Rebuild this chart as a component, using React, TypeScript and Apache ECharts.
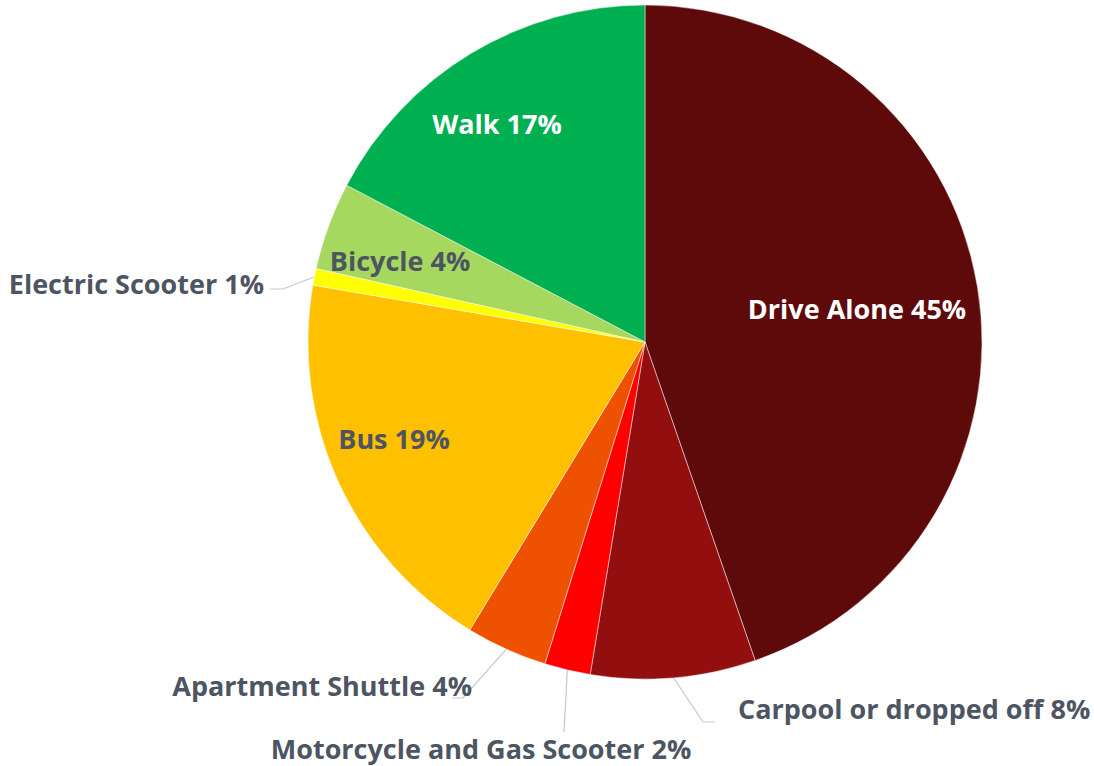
import React, { useEffect, useRef } from "react";
import * as echarts from "echarts";

const categories = [
  "Drive Alone",
  "Carpool or dropped off",
  "Motorcycle and Gas Scooter",
  "Apartment Shuttle",
  "Bus",
  "Electric Scooter",
  "Bicycle",
  "Walk",
];
const shares = [44.7, 7.9, 2.2, 3.9, 19.0, 0.8, 4.2, 17.3];
const colors = ["#5E0A0B", "#920E0F", "#FF0000", "#EE5100", "#FFC000", "#FFFF00", "#A6D75F", "#00B050"];
const labelColors = ["#FFFFFF", "#4D5563", "#4D5563", "#4D5563", "#4D5563", "#4D5563", "#4D5563", "#FFFFFF"];

// label anchor placement (x, y, align) and leader-line elbows
const labelPlace: any[] = [
  { x: 857, y: 308, align: "center" },
  { x: 738, y: 708, align: "left", line: [[703, 722], [715, 722]] },
  { x: 481, y: 748, align: "center", line: [[564, 732], [564, 732]] },
  { x: 472, y: 685, align: "right", line: [[463, 698], [452, 698]] },
  { x: 394, y: 438, align: "center" },
  { x: 264, y: 283, align: "right", line: [[283, 289], [270, 289]] },
  { x: 400, y: 260, align: "center" },
  { x: 497, y: 123, align: "center" },
];

export default function App() {
  const ref = useRef<HTMLDivElement>(null);
  useEffect(() => {
    document.body.style.margin = "0";
    const chart = echarts.init(ref.current!, null, { renderer: "svg" });
    const data = categories.map((name, i) => ({
      name,
      value: shares[i],
      itemStyle: { color: colors[i] },
      label: {
        color: labelColors[i],
        position: labelPlace[i].line ? "outside" : "inside",
      },
      labelLine: { show: !!labelPlace[i].line },
    }));
    chart.setOption({
      animation: false,
      series: [
        {
          type: "pie",
          center: [645, 342],
          radius: [0, 337],
          startAngle: 90,
          clockwise: true,
          avoidLabelOverlap: false,
          data,
          itemStyle: { borderColor: "rgba(255,255,255,0.6)", borderWidth: 0.8 },
          label: {
            show: true,
            fontFamily: "Open Sans",
            fontWeight: "bold",
            fontSize: 27,
            formatter: (p: any) => `${p.name} ${Math.round(p.percent)}%`,
          },
          labelLine: {
            show: true,
            lineStyle: { color: "#C4C7CC", width: 1.2 },
          },
          labelLayout: (params: any) => {
            const lp = labelPlace[params.dataIndex];
            const res: any = {
              x: lp.x,
              y: lp.y,
              align: lp.align,
              verticalAlign: "middle",
            };
            if (lp.line && params.labelLinePoints) {
              res.labelLinePoints = [params.labelLinePoints[0], lp.line[0], lp.line[1]];
            }
            return res;
          },
        },
      ],
    });
    return () => chart.dispose();
  }, []);
  return (
    <div
      ref={ref}
      style={{ position: "absolute", left: 0, top: 0, width: 1094, height: 766 }}
    />
  );
}
